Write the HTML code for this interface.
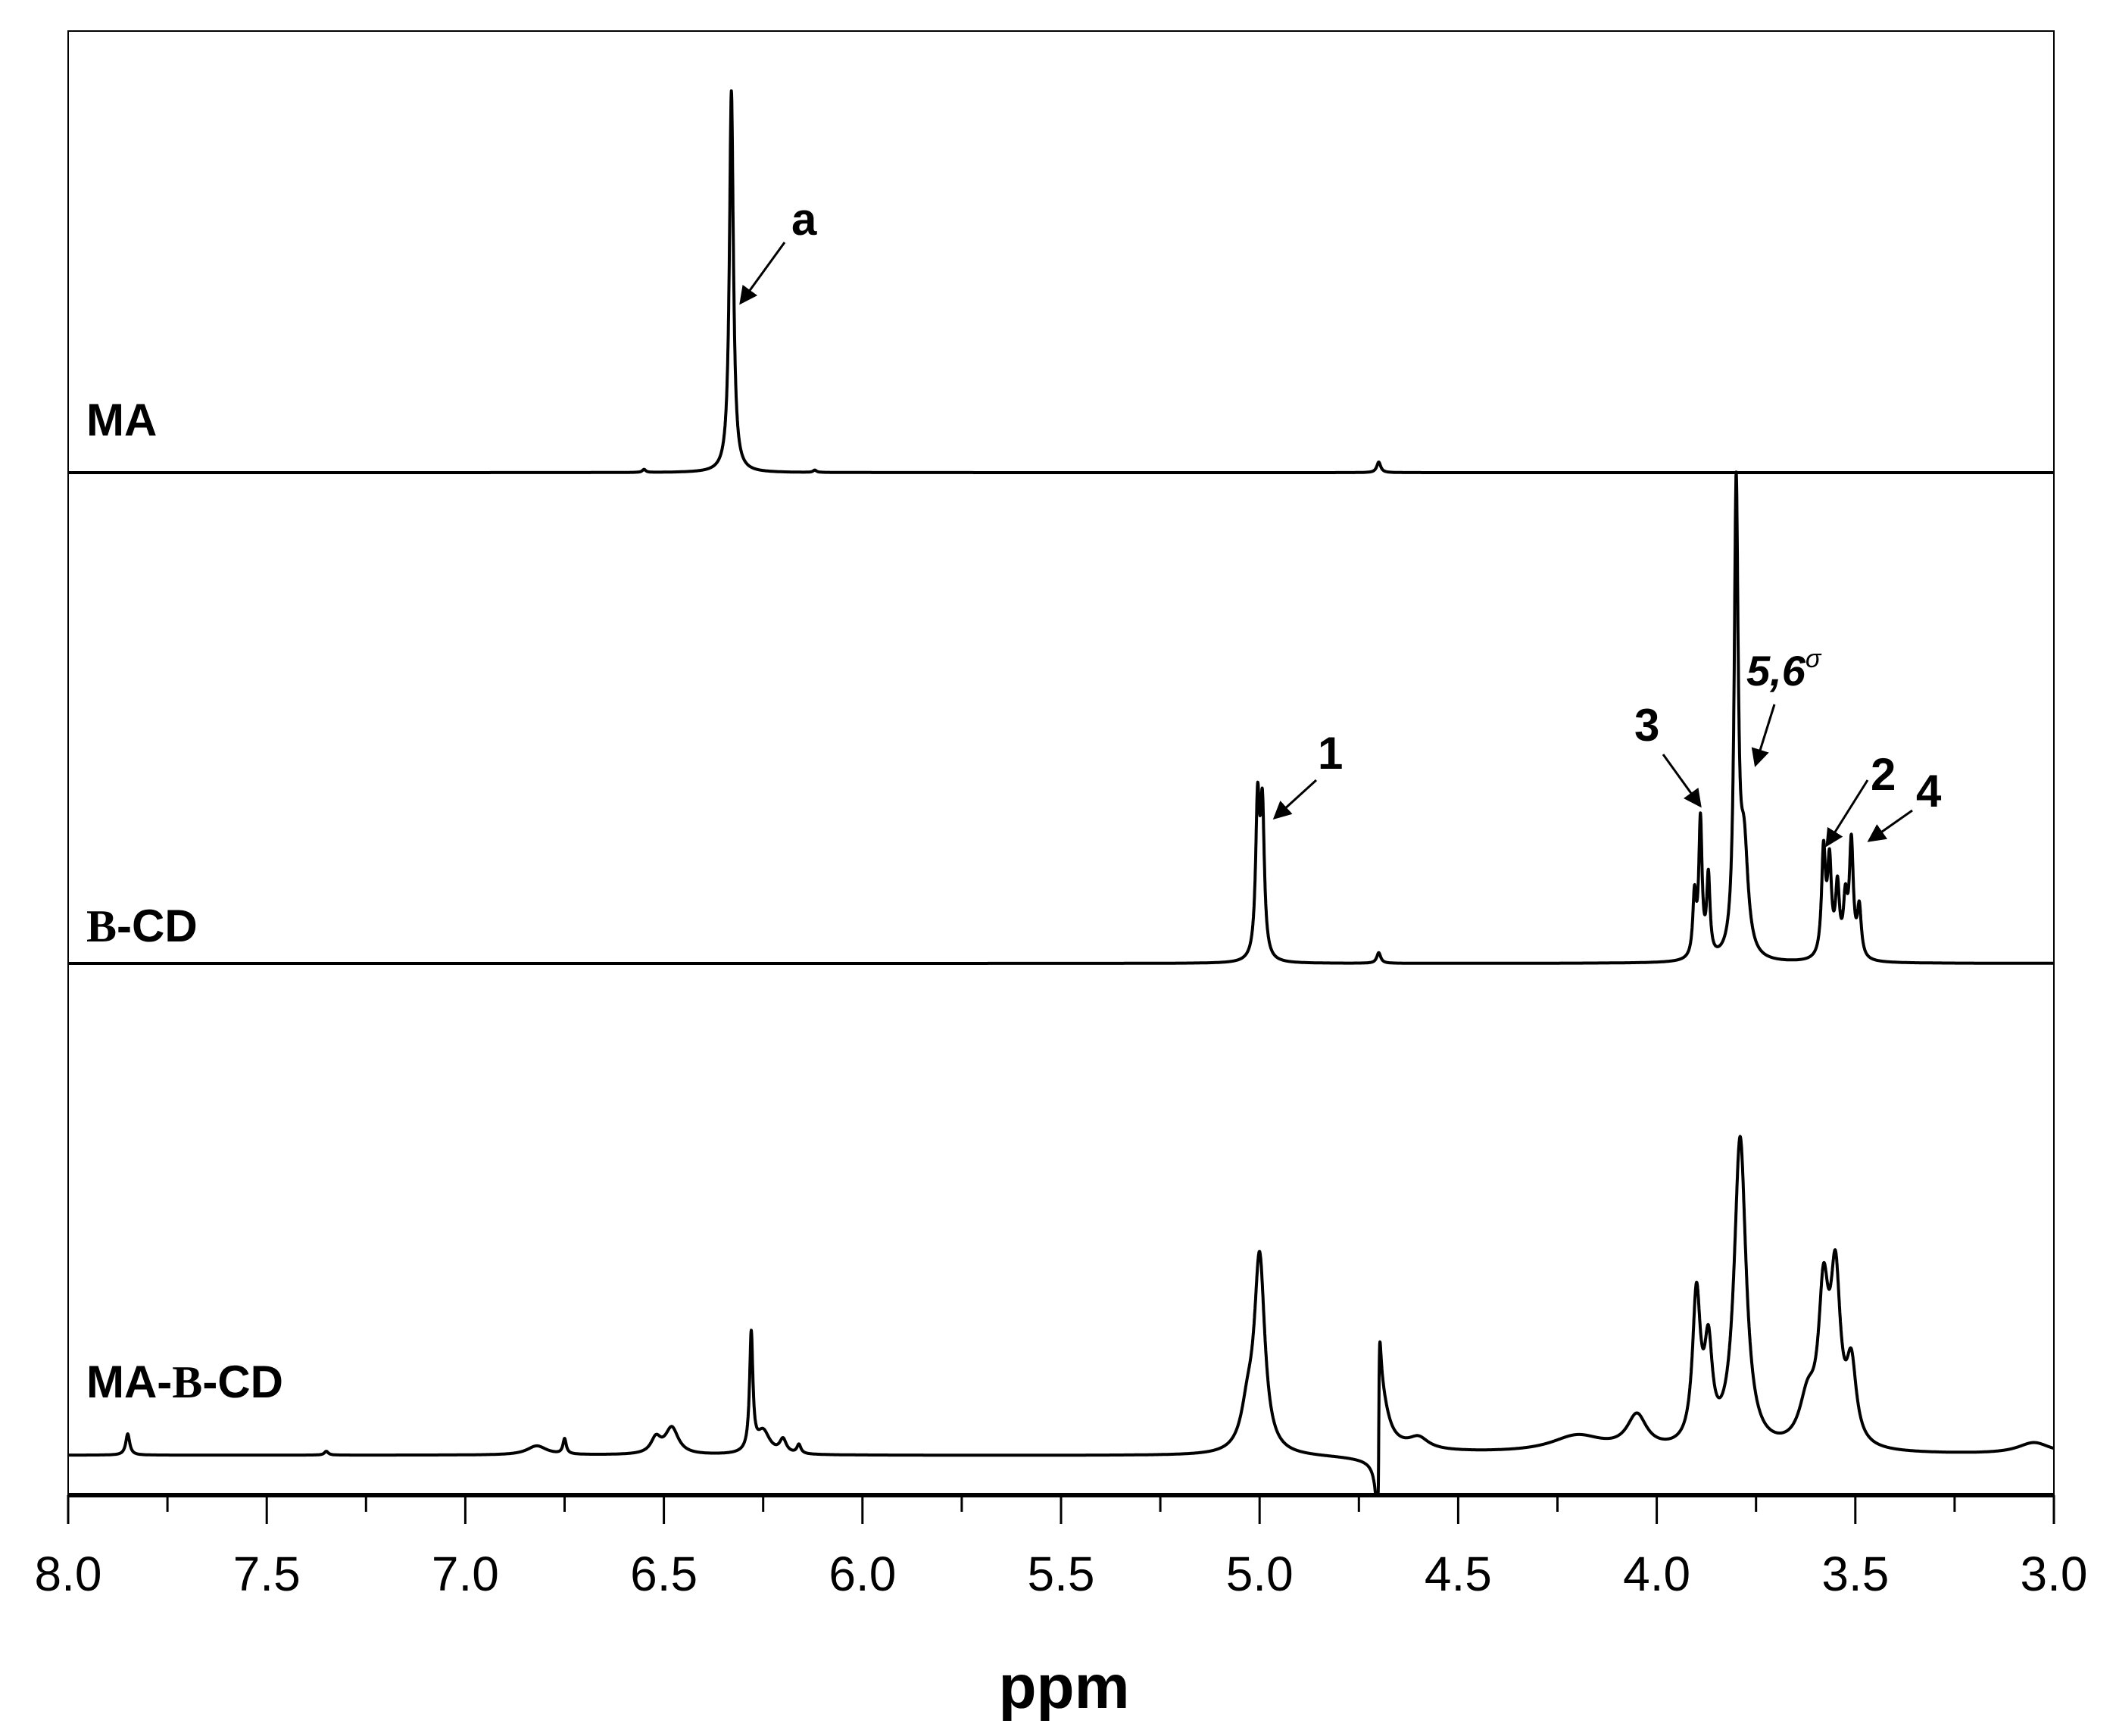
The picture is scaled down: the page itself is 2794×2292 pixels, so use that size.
<!DOCTYPE html>
<html><head><meta charset="utf-8"><style>
html,body{margin:0;padding:0;background:#fff;}
svg{display:block;}
text{font-family:"Liberation Sans",Arial,sans-serif;fill:#000;}
</style></head><body>
<svg id="chart" width="2794" height="2292" viewBox="0 0 2794 2292" xmlns="http://www.w3.org/2000/svg">
<rect x="0" y="0" width="2794" height="2292" fill="#fff"/>
<rect x="90" y="41" width="2622" height="1933" fill="none" stroke="#000" stroke-width="2"/>
<line x1="89" y1="1974" x2="2712" y2="1974" stroke="#000" stroke-width="6"/>
<g id="ticks"></g>
<g id="spectra"></g>
<text x="1405" y="2255" font-size="82" font-weight="bold" text-anchor="middle">ppm</text>
<text x="114" y="575" font-size="60" font-weight="bold">MA</text>
<text x="114" y="1243" font-size="60" font-weight="bold"><tspan font-family="Liberation Serif,serif">Β</tspan>-CD</text>
<text x="114" y="1845" font-size="60" font-weight="bold">MA-<tspan font-family="Liberation Serif,serif">Β</tspan>-CD</text>
<defs><marker id="ah" markerWidth="8" markerHeight="8" refX="7" refY="4" orient="auto" markerUnits="strokeWidth"><path d="M0,0 L8,4 L0,8 z" fill="#000"/></marker></defs>
<text x="1045" y="310" font-size="60" font-weight="bold">a</text>
<line x1="1036" y1="320" x2="978" y2="400" stroke="#000" stroke-width="3" marker-end="url(#ah)"/>
<text x="1740" y="1015" font-size="60" font-weight="bold">1</text>
<line x1="1738" y1="1030" x2="1683" y2="1080" stroke="#000" stroke-width="3" marker-end="url(#ah)"/>
<text x="2158" y="978" font-size="60" font-weight="bold">3</text>
<line x1="2196" y1="996" x2="2245" y2="1064" stroke="#000" stroke-width="3" marker-end="url(#ah)"/>
<text x="2306" y="905" font-size="56" font-weight="bold" font-style="italic">5,6<tspan font-size="34" dy="-24" font-weight="normal">σ</tspan></text>
<line x1="2343" y1="930" x2="2318" y2="1010" stroke="#000" stroke-width="3" marker-end="url(#ah)"/>
<text x="2470" y="1043" font-size="60" font-weight="bold">2</text>
<line x1="2466" y1="1030" x2="2412" y2="1116" stroke="#000" stroke-width="3" marker-end="url(#ah)"/>
<text x="2530" y="1065" font-size="60" font-weight="bold">4</text>
<line x1="2525" y1="1070" x2="2468" y2="1110" stroke="#000" stroke-width="3" marker-end="url(#ah)"/>
</svg>
<script>
const tickLabels = ["8.0","7.5","7.0","6.5","6.0","5.5","5.0","4.5","4.0","3.5","3.0"];
const tickValues = [8.0,7.5,7.0,6.5,6.0,5.5,5.0,4.5,4.0,3.5,3.0];
// peak data: centers (ppm), heights (px above baseline), half widths (ppm)
const maCenters = [6.33, 6.55, 6.12, 4.70];
const maHeights = [504, 4, 3, 14];
const maWidths  = [0.006, 0.005, 0.005, 0.006];
const bcdCenters = [5.005, 4.993, 3.80, 3.78, 3.905, 3.89, 3.87, 3.58, 3.565, 3.545, 3.525, 3.51, 3.49, 4.70];
const bcdHeights = [200, 190, 610, 140, 80, 180, 105, 140, 120, 90, 70, 150, 65, 14];
const bcdWidths  = [0.006, 0.006, 0.006, 0.012, 0.005, 0.005, 0.005, 0.006, 0.006, 0.006, 0.006, 0.006, 0.006, 0.006];
const mixCenters = [7.85, 7.35, 6.82, 6.75, 6.52, 6.48, 6.28, 6.25, 6.20, 6.16, 5.00, 5.03, 4.69, 4.60, 4.20, 4.05, 3.90, 3.87, 3.79, 3.62, 3.58, 3.55, 3.51, 3.05];
const mixHeights = [28, 5, 12, 20, 20, 35, 155, 30, 18, 12, 255, 50, 35, 15, 22, 45, 195, 120, 410, 60, 185, 210, 100, 15];
const mixWidths  = [0.006, 0.006, 0.03, 0.005, 0.015, 0.02, 0.005, 0.02, 0.01, 0.006, 0.016, 0.02, 0.02, 0.03, 0.08, 0.03, 0.012, 0.012, 0.018, 0.025, 0.015, 0.015, 0.015, 0.05];
const mixDispCenter = [4.70];
const mixDispAmp = [115];
const mixDispWidth = [0.003];
const baselines = [624, 1272, 1921];

const X0=90, X1=2712;
function xScale(p){return X0 + (8-p)/5*(X1-X0);}
const NS="http://www.w3.org/2000/svg";
const tg=document.getElementById('ticks');
for(let i=0;i<tickValues.length;i++){
  const x=xScale(tickValues[i]);
  const l=document.createElementNS(NS,'line');
  l.setAttribute('x1',x);l.setAttribute('x2',x);l.setAttribute('y1',1974);l.setAttribute('y2',2012);
  l.setAttribute('stroke','#000');l.setAttribute('stroke-width','3');
  
  
  tg.appendChild(l);
  if(i<tickValues.length-1){
    const xm=xScale(tickValues[i]-0.25);
    const m=document.createElementNS(NS,'line');
    m.setAttribute('x1',xm);m.setAttribute('x2',xm);m.setAttribute('y1',1974);m.setAttribute('y2',1996);
    m.setAttribute('stroke','#000');m.setAttribute('stroke-width','3');
    
    
    tg.appendChild(m);
  }
  const t=document.createElementNS(NS,'text');
  t.setAttribute('x',x);t.setAttribute('y',2100);t.setAttribute('font-size','64');t.setAttribute('text-anchor','middle');
  t.textContent=tickLabels[i];
  
  
  tg.appendChild(t);
}
function spec(p,c,h,w){let s=0;for(let i=0;i<c.length;i++){const d=p-c[i];s+=h[i]*w[i]*w[i]/(d*d+w[i]*w[i]);}return s;}
function disp(p){let s=0;for(let i=0;i<mixDispCenter.length;i++){const d=mixDispCenter[i]-p;const w=mixDispWidth[i];s+=mixDispAmp[i]*2*w*d/(d*d+w*w);}return s;}
function makePath(fn,base,name){
  let d='';
  for(let p=8;p>=3;p-=0.0005){
    let y=base-fn(p);
    if(y>1974)y=1974;
    d+=(d?'L':'M')+xScale(p).toFixed(1)+','+y.toFixed(1);
  }
  const path=document.createElementNS(NS,'path');
  path.setAttribute('d',d);path.setAttribute('fill','none');path.setAttribute('stroke','#000');
  path.setAttribute('stroke-width','4');path.setAttribute('stroke-linejoin','round');
  
  
  document.getElementById('spectra').appendChild(path);
}
makePath(p=>spec(p,maCenters,maHeights,maWidths),baselines[0],'spectrum-ma');
makePath(p=>spec(p,bcdCenters,bcdHeights,bcdWidths),baselines[1],'spectrum-beta-cd');
makePath(p=>spec(p,mixCenters,mixHeights,mixWidths)+disp(p),baselines[2],'spectrum-ma-beta-cd');
</script>
</body></html>
